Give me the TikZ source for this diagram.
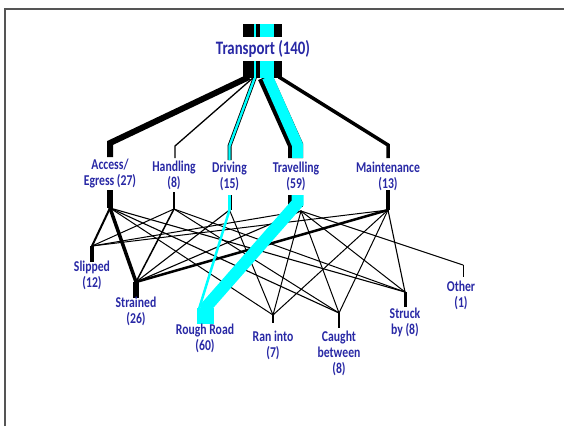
\documentclass[tikz,border=0pt]{standalone}
\usepackage{fontspec}
\newfontfamily\lblfont[FakeStretch=0.78]{Carlito Bold}
\definecolor{labelblue}{RGB}{40,40,165}
\definecolor{framec}{RGB}{85,85,85}
\definecolor{rrcyan}{RGB}{0,255,255}
\begin{document}
\begin{tikzpicture}[x=1pt,y=-1pt,
  lbl/.style={font=\lblfont\fontsize{15}{16}\selectfont, text=labelblue, align=center, inner sep=0pt},
  flow/.style={line width=#1, line join=miter, line cap=butt, draw=black},
  cflow/.style={line width=#1, line join=miter, line cap=butt, draw=rrcyan},
  web/.style={line width=#1, line cap=round, draw=black}]
\useasboundingbox (0,0) rectangle (564,426);
% frame
\draw[framec, line width=1.6] (5,426) -- (5,9) -- (564,9);

% junction coordinates
\coordinate (A) at (110,208);
\coordinate (H) at (174,209);
\coordinate (D) at (229.5,210);
\coordinate (T) at (301,211);
\coordinate (M) at (388,210);
\coordinate (Sl) at (92,246);
\coordinate (St) at (136,282);
\coordinate (RI) at (273,315);
\coordinate (CB) at (339,313);
\coordinate (SB) at (405,292);
\coordinate (O) at (463,265);
\coordinate (RRa) at (199,309);
\coordinate (RRb) at (207,306);

% upper branches
\draw[flow=6] (249,77) -- (110,143) -- (110,157);
\draw[flow=1.3] (254,77) -- (175,146) -- (175,158);
\draw[flow=4] (255,77) -- (229.5,146) -- (229.5,160);
\draw[cflow=2.4] (255,77) -- (229.5,146) -- (229.5,160);
\draw[flow=15] (265,77) -- (295.5,145) -- (295.5,158);
\draw[cflow=11] (267.5,77) -- (297.5,145) -- (297.5,158);
\draw[flow=3.5] (279,77) -- (388,145) -- (388,158);

% trunk
\fill[black] (243,24) rectangle (282,37);
\fill[rrcyan] (254,24) rectangle (256,37);
\fill[rrcyan] (260,24) rectangle (274,37);
\fill[black] (243,61) rectangle (282,78);
\fill[rrcyan] (254,61) rectangle (256,78);
\fill[rrcyan] (260,61) rectangle (274,78);

% web of connectors
\draw[web=2] (A) -- (Sl);
\draw[web=3.5] (A) -- (St);
\draw[web=1] (A) -- (RI);
\draw[web=1.1] (A) -- (CB);
\draw[web=1.1] (A) -- (SB);
\draw[web=1] (H) -- (Sl);
\draw[web=1.5] (H) -- (St);
\draw[web=1] (H) -- (CB);
\draw[web=1] (H) -- (SB);
\draw[web=1.1] (D) -- (St);
\draw[web=1] (D) -- (RI);
\draw[web=1] (T) -- (Sl);
\draw[web=1.1] (T) -- (St);
\draw[web=1] (T) -- (RI);
\draw[web=1] (T) -- (CB);
\draw[web=1] (T) -- (SB);
\draw[web=1] (T) -- (O);
\draw[web=1] (M) -- (Sl);
\draw[web=2.5] (M) -- (St);
\draw[web=1] (M) -- (RI);
\draw[web=1] (M) -- (CB);
\draw[web=1.1] (M) -- (SB);

% lower stubs of middle level
\draw[flow=6] (110,190) -- (A);
\draw[flow=1.3] (174,192) -- (H);
\draw[flow=4] (229.5,195) -- (D);
\draw[cflow=2.4] (229.5,195) -- (D);
\draw[flow=15] (295.5,195) -- (295.5,207);
\draw[flow=4] (388,190) -- (M);

% rough road flows
\draw[cflow=2.5] (D) -- (RRa);
\draw[cflow=12] (297.5,195) -- (297.5,203) -- (RRb) -- (207,316);
\fill[rrcyan] (197,308) rectangle (214,324);

% bottom stubs
\draw[flow=4] (Sl) -- (92,262);
\draw[flow=6] (St) -- (136,298);
\draw[flow=2] (RI) -- (273,323);
\draw[flow=2] (CB) -- (339,328);
\draw[flow=3] (SB) -- (405,307);
\draw[flow=1] (O) -- (463,277);

% labels
\node[lbl, font=\lblfont\fontsize{19}{20}\selectfont] (transport) at (263,49) {Transport (140)};
\node[lbl] (access) at (110,174) {Access/\\Egress (27)};
\node[lbl] (handling) at (174,175) {Handling\\(8)};
\node[lbl] (driving) at (229.5,176) {Driving\\(15)};
\node[lbl] (travelling) at (296,176) {Travelling\\(59)};
\node[lbl] (maint) at (388,176) {Maintenance\\(13)};
\node[lbl] (slipped) at (92,275) {Slipped\\(12)};
\node[lbl] (strained) at (136,311) {Strained\\(26)};
\node[lbl] (rough) at (205,338) {Rough Road\\(60)};
\node[lbl] (ran) at (273,345) {Ran into\\(7)};
\node[lbl] (caught) at (339,353) {Caught\\between\\(8)};
\node[lbl] (struck) at (405,322) {Struck\\by (8)};
\node[lbl] (other) at (461,295) {Other\\(1)};
\end{tikzpicture}
\end{document}
